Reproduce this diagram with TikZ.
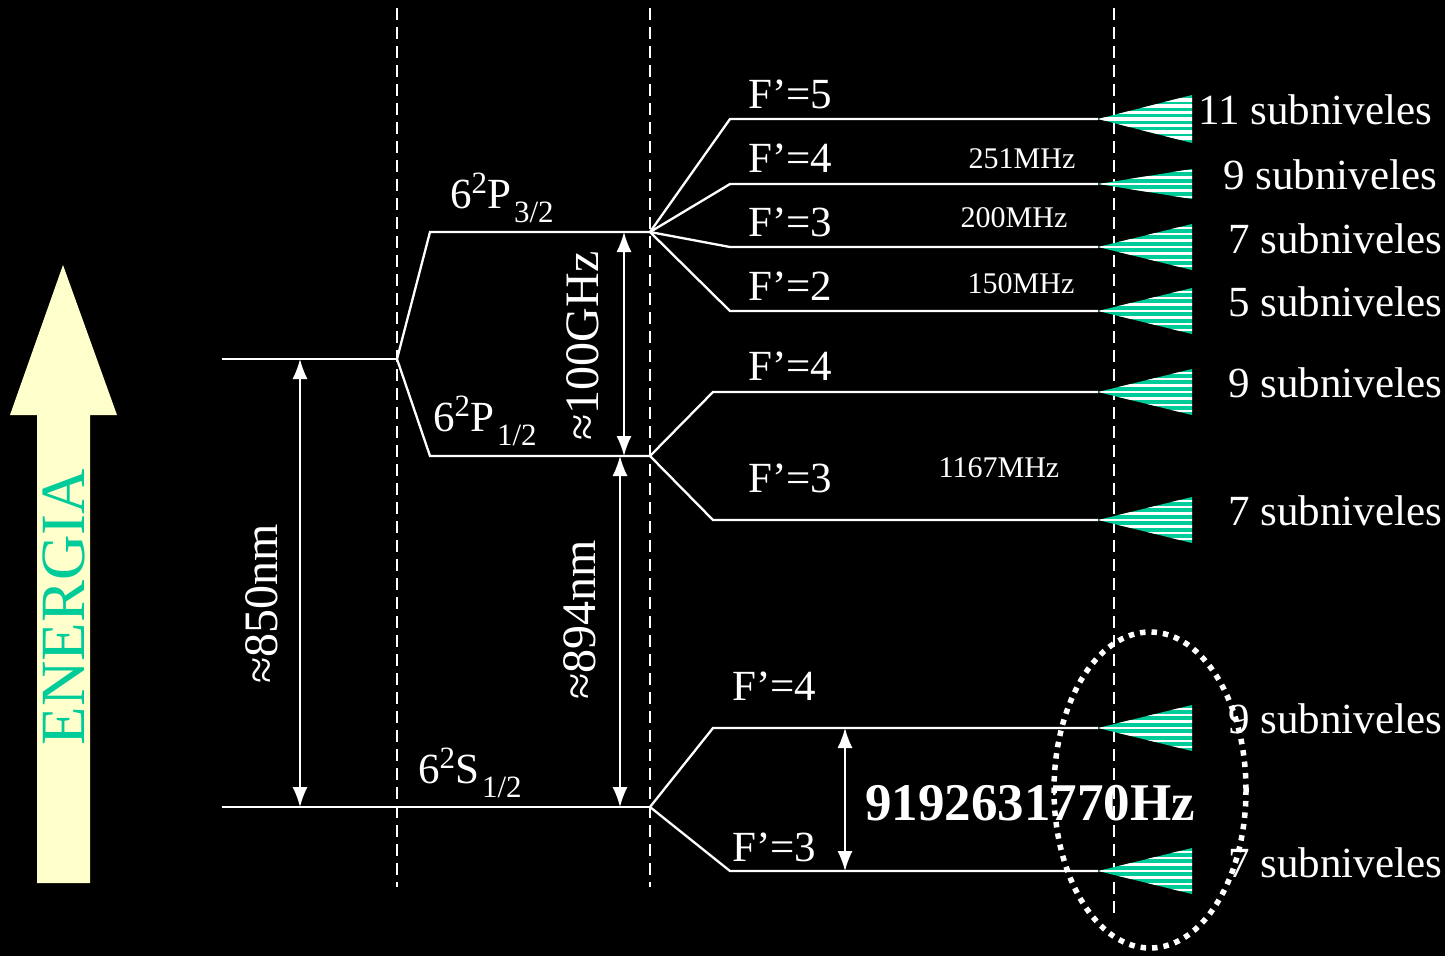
\documentclass[tikz,border=0pt]{standalone}
\usepackage{fontspec}
\setmainfont{Liberation Serif}
\usetikzlibrary{arrows.meta}
\definecolor{teal1}{HTML}{00CC99}
\definecolor{pale}{HTML}{FFFFCC}
\newcommand\fanshape[4]{% name, y, half-height, stripe width
  \begin{scope}
    \clip (1098,#2) -- (1192,#2-#3) -- (1192,#2+#3) -- cycle;
    \fill[teal1] (1090,#2-#3-2) rectangle (1200,#2+#3+2);
    \foreach \k in {-5,...,5}{\draw[white,line width=#4] (1090,#2+\k*6.4) -- (1200,#2+\k*6.4);}
  \end{scope}
  \coordinate (#1) at (1098,#2);
}
\begin{document}
\begin{tikzpicture}[x=1pt,y=-1pt,
  lvl/.style={white,line width=2.3pt,line join=miter},
  vdash/.style={white,line width=2.4pt,dash pattern=on 12pt off 7pt},
  dim/.style={white,line width=1.6pt,{Latex[length=20pt,width=15pt]}-{Latex[length=20pt,width=15pt]}},
  lab/.style={text=white,font=\fontsize{43}{48}\selectfont,inner sep=0pt},
  small/.style={text=white,font=\fontsize{30}{36}\selectfont,inner sep=0pt},
  vlab/.style={text=white,font=\fontsize{48}{54}\selectfont,inner sep=0pt,rotate=90},
]
\fill[black] (0,0) rectangle (1445,956);
\useasboundingbox (0,0) rectangle (1445,956);

% energy arrow
\fill[pale] (37,883) -- (37,415) -- (10,415) -- (63,265) -- (117,415) -- (90,415) -- (90,883) -- cycle;
\node[text=teal1,font=\fontsize{63}{70}\selectfont,inner sep=0pt,rotate=90] (energia) at (64,607) {ENERGIA};

% dashed verticals
\coordinate (v1t) at (397,8);   \coordinate (v1b) at (397,887);
\coordinate (v2t) at (650,8);   \coordinate (v2b) at (650,887);
\coordinate (v3t) at (1114,8);  \coordinate (v3b) at (1114,915);
\draw[vdash] (v1t) -- (v1b);
\draw[vdash] (v2t) -- (v2b);
\draw[vdash] (v3t) -- (v3b);

% fans
\fanshape{t5}{119}{24}{3.6pt}
\fanshape{t4}{184}{15}{2.4pt}
\fanshape{t3}{247}{23}{2.4pt}
\fanshape{t2}{311}{23}{2.4pt}
\fanshape{u4}{392}{23}{2.4pt}
\fanshape{u3}{520}{23}{2.4pt}
\fanshape{s4}{728}{23}{2.4pt}
\fanshape{s3}{871}{23}{2.4pt}

% level coordinates
\coordinate (L0) at (222,359); \coordinate (S0) at (397,359);
\coordinate (P3a) at (430,232); \coordinate (P3b) at (650,232);
\coordinate (P1a) at (430,456); \coordinate (P1b) at (650,456);
\coordinate (Sa) at (222,807);  \coordinate (Sb) at (650,807);
\coordinate (a5) at (730,119); \coordinate (a4) at (730,184);
\coordinate (a3) at (730,247); \coordinate (a2) at (730,311);
\coordinate (b4) at (713,392); \coordinate (b3) at (713,520);
\coordinate (c4) at (713,728); \coordinate (c3) at (730,871);

\draw[lvl] (L0) -- (S0);
\draw[lvl] (S0) -- (P3a) -- (P3b);
\draw[lvl] (S0) -- (P1a) -- (P1b);
\draw[lvl] (Sa) -- (Sb);
\draw[lvl] (P3b) -- (a5) -- (t5);
\draw[lvl] (P3b) -- (a4) -- (t4);
\draw[lvl] (P3b) -- (a3) -- (t3);
\draw[lvl] (P3b) -- (a2) -- (t2);
\draw[lvl] (P1b) -- (b4) -- (u4);
\draw[lvl] (P1b) -- (b3) -- (u3);
\draw[lvl] (Sb) -- (c4) -- (s4);
\draw[lvl] (Sb) -- (c3) -- (s3);

% dimension arrows
\coordinate (d1a) at (300,359); \coordinate (d1b) at (300,807);
\coordinate (d2a) at (624,232); \coordinate (d2b) at (624,456);
\coordinate (d3a) at (620,456); \coordinate (d3b) at (620,807);
\coordinate (d4a) at (845,728); \coordinate (d4b) at (845,871);
\draw[dim] (d1a) -- (d1b);
\draw[dim] (d2a) -- (d2b);
\draw[dim] (d3a) -- (d3b);
\draw[dim] (d4a) -- (d4b);

\node[vlab] (n850) at (262,604) {≈850nm};
\node[vlab] (n100) at (583,346) {≈100GHz};
\node[vlab] (n894) at (580,620) {≈894nm};

% term labels
\node[lab,anchor=base west] (p32) at (450,208) {6\raisebox{15pt}{\fontsize{31}{32}\selectfont 2}P\hspace{3pt}\raisebox{-14pt}{\fontsize{31}{32}\selectfont 3/2}};
\node[lab,anchor=base west] (p12) at (433,431) {6\raisebox{15pt}{\fontsize{31}{32}\selectfont 2}P\hspace{3pt}\raisebox{-14pt}{\fontsize{31}{32}\selectfont 1/2}};
\node[lab,anchor=base west] (s12) at (418,783) {6\raisebox{15pt}{\fontsize{31}{32}\selectfont 2}S\hspace{3pt}\raisebox{-14pt}{\fontsize{31}{32}\selectfont 1/2}};

% F labels
\node[lab,anchor=base west] (lf5) at (748,108) {F’=5};
\node[lab,anchor=base west] (lf4) at (748,172) {F’=4};
\node[lab,anchor=base west] (lf3) at (748,236) {F’=3};
\node[lab,anchor=base west] (lf2) at (748,300) {F’=2};
\node[lab,anchor=base west] (lg4) at (748,380) {F’=4};
\node[lab,anchor=base west] (lg3) at (748,492) {F’=3};
\node[lab,anchor=base west] (lh4) at (732,700) {F’=4};
\node[lab,anchor=base west] (lh3) at (732,861) {F’=3};

% splittings
\node[small,anchor=base] (m251) at (1022,168) {251MHz};
\node[small,anchor=base] (m200) at (1014,227) {200MHz};
\node[small,anchor=base] (m150) at (1021,293) {150MHz};
\node[small,anchor=base] (m1167) at (999,477) {1167MHz};
\node[text=white,font=\bfseries\fontsize{53}{58}\selectfont,inner sep=0pt] (hz) at (1030,803) {9192631770Hz};

% subniveles
\node[lab,anchor=base west] (k11) at (1198,124) {11 subniveles};
\node[lab,anchor=base west] (k9a) at (1223,189) {9 subniveles};
\node[lab,anchor=base west] (k7a) at (1228,253) {7 subniveles};
\node[lab,anchor=base west] (k5) at (1228,316) {5 subniveles};
\node[lab,anchor=base west] (k9b) at (1228,397) {9 subniveles};
\node[lab,anchor=base west] (k7b) at (1228,525) {7 subniveles};
\node[lab,anchor=base west] (k9c) at (1228,733) {9 subniveles};
\node[lab,anchor=base west] (k7c) at (1228,877) {7 subniveles};

% dotted ellipse
\draw[white,line width=5.5pt,dash pattern=on 5.5pt off 6pt] (1150,790) ellipse [x radius=96pt, y radius=158pt];
\end{tikzpicture}
\end{document}
